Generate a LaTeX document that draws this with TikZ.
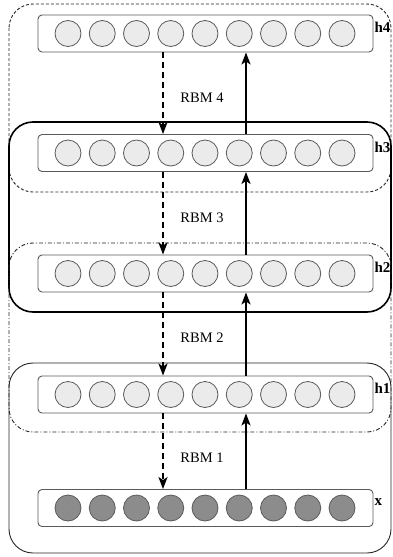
\documentclass[tikz,border=0pt]{standalone}
\usepackage{fontspec}
\setmainfont{Liberation Serif}
\usetikzlibrary{arrows.meta}
\definecolor{boxline}{HTML}{5A5A5A}
\definecolor{hidfill}{HTML}{EBEBEB}
\definecolor{visfill}{HTML}{8C8C8C}
\tikzset{
  layerbox/.style={draw=boxline, line width=0.9pt, rounded corners=4pt, minimum width=335pt, minimum height=37pt, inner sep=0pt},
  unit/.style={circle, draw=boxline, line width=0.8pt, minimum size=26pt, inner sep=0pt},
  hid/.style={unit, fill=hidfill},
  vis/.style={unit, fill=visfill},
  lab/.style={font=\fontsize{15}{17}\selectfont\bfseries, anchor=west, inner sep=1pt},
  rbm/.style={font=\fontsize{14.5}{17}\selectfont, inner sep=0pt},
  down/.style={line width=2pt, dash pattern=on 6pt off 4pt, -{Stealth[length=12pt,width=9pt,inset=3pt]}},
  up/.style={line width=2pt, -{Stealth[length=12pt,width=9pt,inset=3pt]}},
  grpA/.style={draw=black!85, line width=0.9pt, dash pattern=on 3pt off 2pt, rounded corners=24pt},
  grpB/.style={draw=black, line width=1.6pt, rounded corners=24pt},
  grpC/.style={draw=black!85, line width=0.9pt, dash pattern=on 4pt off 2pt on 1pt off 2pt, rounded corners=24pt},
  grpD/.style={draw=black!85, line width=0.9pt, rounded corners=24pt},
}
\begin{document}
\begin{tikzpicture}[x=1pt, y=-1pt]
\useasboundingbox (0,0) rectangle (392,557);
% groups
\draw[grpA] (9,4) rectangle (391,192);
\draw[grpB] (9,122) rectangle (391,312);
\draw[grpC] (9,243) rectangle (391,432);
\draw[grpD] (9,363) rectangle (391,553);
% layers
\foreach \n/\y/\s in {h4/33.5/hid, h3/153/hid, h2/273.5/hid, h1/394.5/hid, x/508/vis} {
  \node[layerbox] (\n) at (205.5,\y) {};
  \foreach \k in {0,...,8} {
    \node[\s] (\n-\k) at (68+\k*34.25,\y) {};
  }
  \node[lab] (\n-lab) at ([yshift=6pt]\n.east) {\n};
}
% arrows
\foreach \a/\b/\t/\ty in {h4/h3/RBM 4/98, h3/h2/RBM 3/218, h2/h1/RBM 2/338, h1/x/RBM 1/458} {
  \draw[down] ([xshift=-42.5pt]\a.south) -- ([xshift=-42.5pt]\b.north);
  \draw[up] ([xshift=40.5pt]\b.north) -- ([xshift=40.5pt]\a.south);
  \node[rbm] (\a-\b-rbm) at (202,\ty) {\t};
}
\end{tikzpicture}
\end{document}
